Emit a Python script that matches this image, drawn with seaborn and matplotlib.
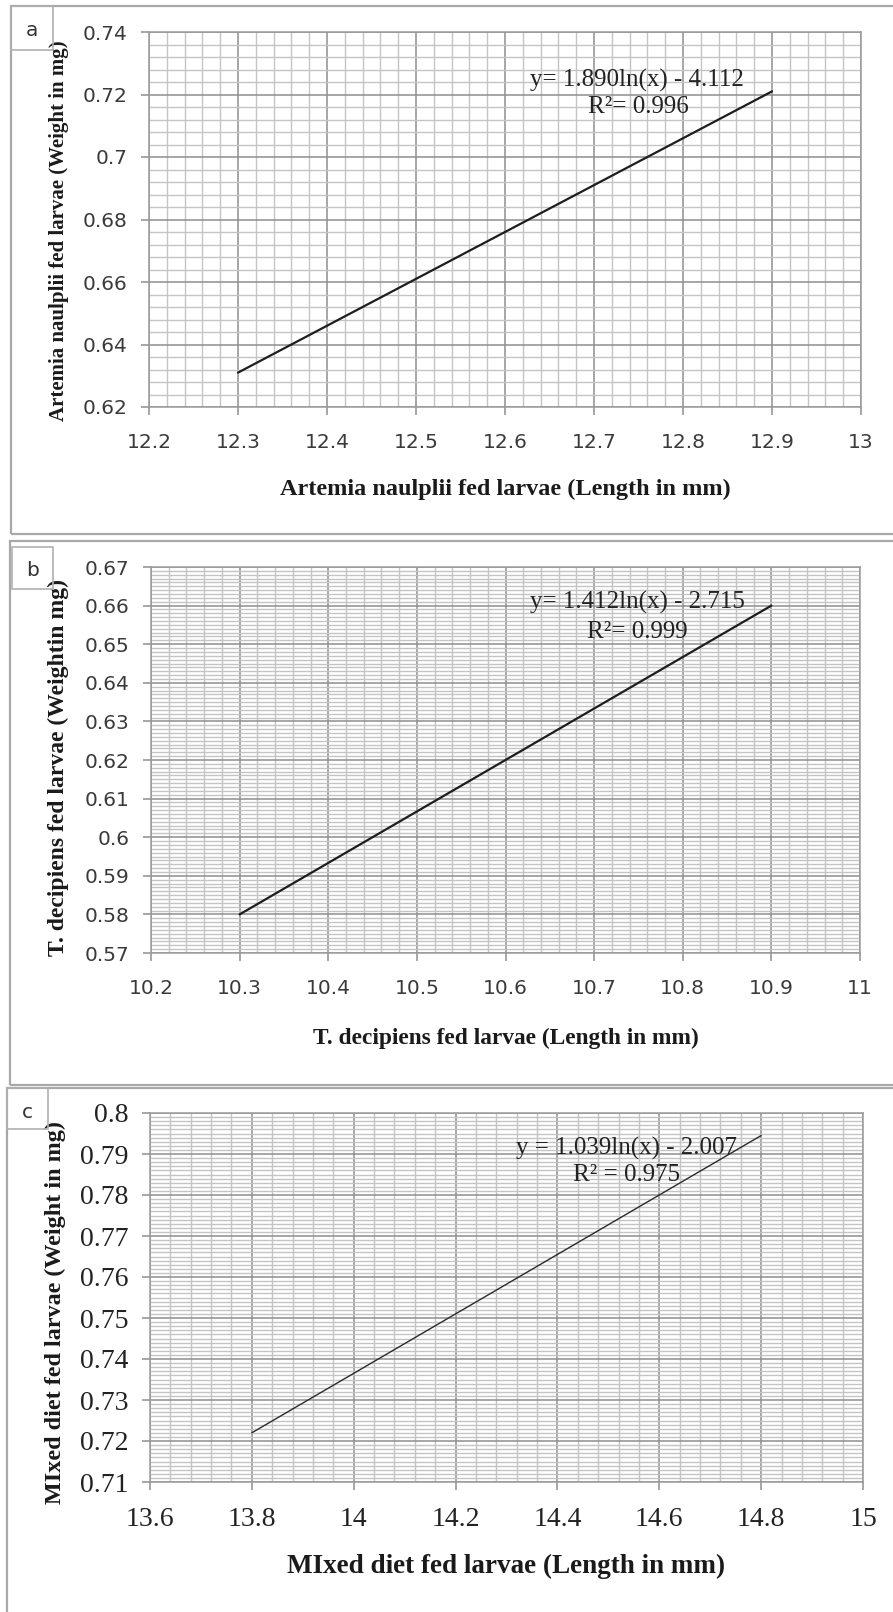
import matplotlib
matplotlib.use("Agg")
import matplotlib.pyplot as plt
from matplotlib.patches import Rectangle
from matplotlib.ticker import MultipleLocator, FixedLocator, FuncFormatter
import seaborn as sns

# Larval length vs weight for three feeding regimes
a_length = [12.3, 12.9]
a_weight = [0.631, 0.721]
b_length = [10.3, 10.9]
b_weight = [0.580, 0.660]
c_length = [13.8, 14.8]
c_weight = [0.722, 0.7945]

a_xticks = [12.2, 12.3, 12.4, 12.5, 12.6, 12.7, 12.8, 12.9, 13.0]
a_yticks = [0.62, 0.64, 0.66, 0.68, 0.70, 0.72, 0.74]
b_xticks = [10.2, 10.3, 10.4, 10.5, 10.6, 10.7, 10.8, 10.9, 11.0]
b_yticks = [0.57, 0.58, 0.59, 0.60, 0.61, 0.62, 0.63, 0.64, 0.65, 0.66, 0.67]
c_xticks = [13.6, 13.8, 14.0, 14.2, 14.4, 14.6, 14.8, 15.0]
c_yticks = [0.71, 0.72, 0.73, 0.74, 0.75, 0.76, 0.77, 0.78, 0.79, 0.80]

a_eq = ["y= 1.890ln(x) - 4.112", "R²= 0.996"]
b_eq = ["y= 1.412ln(x) - 2.715", "R²= 0.999"]
c_eq = ["y = 1.039ln(x) - 2.007", "R² = 0.975"]

a_xlabel = "Artemia naulplii fed larvae (Length in mm)"
a_ylabel = "Artemia naulplii fed larvae (Weight in mg)"
b_xlabel = "T. decipiens fed larvae (Length in mm)"
b_ylabel = "T. decipiens fed larvae (Weightin mg)"
c_xlabel = "MIxed diet fed larvae (Length in mm)"
c_ylabel = "MIxed diet fed larvae (Weight in mg)"

sns.set_theme(style="white")
plt.rcParams["font.family"] = ["DejaVu Sans"]

W, H = 893, 1612
fig = plt.figure(figsize=(W / 100, H / 100), dpi=100)
fig.patch.set_facecolor("white")


def fx(x):
    return x / W


def fy(y):
    return 1 - y / H


def add_axes_px(x0, y0, x1, y1):
    return fig.add_axes([fx(x0), fy(y1), (x1 - x0) / W, (y1 - y0) / H])


def frame_px(x0, y0, x1, y1, lw=1.6, color="#a8a8a8"):
    fig.patches.append(Rectangle((fx(x0), fy(y1)), (x1 - x0) / W, (y1 - y0) / H,
                                 transform=fig.transFigure, fill=False,
                                 edgecolor=color, linewidth=lw, clip_on=False))


def letter_box(x0, y0, x1, y1, letter, ty):
    frame_px(x0, y0, x1, y1, lw=1.2, color="#b0b0b0")
    fig.text(fx((x0 + x1) / 2), fy(ty), letter, ha="center", va="center",
             fontsize=14.5, color="#333333", family="DejaVu Sans")


def style_axes(ax, xticks, yticks, xminor, yminor, tickfont, tsize, tcolor,
               xpad, ypad):
    ax.set_xlim(xticks[0], xticks[-1])
    ax.set_ylim(yticks[0], yticks[-1])
    ax.xaxis.set_major_locator(FixedLocator(xticks))
    ax.yaxis.set_major_locator(FixedLocator(yticks))
    ax.xaxis.set_minor_locator(MultipleLocator(xminor))
    ax.yaxis.set_minor_locator(MultipleLocator(yminor))
    fmt = FuncFormatter(lambda v, p: f"{round(v, 4):g}")
    ax.xaxis.set_major_formatter(fmt)
    ax.yaxis.set_major_formatter(fmt)
    ax.grid(which="minor", color="#c4c4c4", linewidth=1.0)
    ax.grid(which="major", color="#8e8e8e", linewidth=1.1)
    ax.set_axisbelow(True)
    for s in ax.spines.values():
        s.set_color("#9a9a9a")
        s.set_linewidth(1.1)
    ax.tick_params(which="major", axis="y", direction="out", length=5.5,
                   width=1.1, color="#8e8e8e", left=True, pad=ypad)
    ax.tick_params(which="major", axis="x", direction="out", length=6,
                   width=1.1, color="#8e8e8e", bottom=True, pad=xpad)
    ax.tick_params(which="minor", length=0)
    for lab in ax.get_xticklabels() + ax.get_yticklabels():
        lab.set_fontfamily(tickfont)
        lab.set_fontsize(tsize)
        lab.set_color(tcolor)
    ax.set_facecolor("white")


def place_ylabel(ax, x_px, frac):
    # put the y-axis title centre at a given figure pixel column and axes fraction
    bbox = ax.get_position()
    x_axes = (fx(x_px) - bbox.x0) / bbox.width
    ax.yaxis.set_label_coords(x_axes, frac)


# ---------- panel frames ----------
frame_px(11, 6, 905, 534)
frame_px(10, 541, 905, 1085)
frame_px(7, 1088, 905, 1660)

serif = "Liberation Serif"

# ---------- panel a ----------
ax_a = add_axes_px(149, 32, 861, 407)
sns.lineplot(x=a_length, y=a_weight, ax=ax_a, color="#1e1e1e", linewidth=1.6)
style_axes(ax_a, a_xticks, a_yticks, 0.02, 0.004, "DejaVu Sans", 14.5, "#3a3a3a",
           xpad=13, ypad=10)
ax_a.set_xlabel(a_xlabel, fontfamily=serif, fontweight="bold", fontsize=17.5,
                color="#1a1a1a", labelpad=19)
ax_a.set_ylabel(a_ylabel, fontfamily=serif, fontweight="bold", fontsize=15,
                color="#1a1a1a", va="center")
place_ylabel(ax_a, 59, 0.47)
fig.text(fx(637), fy(80), a_eq[0], ha="center", va="center", family=serif,
         fontsize=18, color="#222222")
fig.text(fx(638), fy(107), a_eq[1], ha="center", va="center", family=serif,
         fontsize=18, color="#222222")
letter_box(11, 6, 53, 50, "a", 31)

# ---------- panel b ----------
ax_b = add_axes_px(151, 567, 860, 953)
sns.lineplot(x=b_length, y=b_weight, ax=ax_b, color="#1e1e1e", linewidth=1.6)
style_axes(ax_b, b_xticks, b_yticks, 0.02, 0.001, "DejaVu Sans", 14.5, "#3a3a3a",
           xpad=13, ypad=10)
ax_b.set_xlabel(b_xlabel, fontfamily=serif, fontweight="bold", fontsize=16.8,
                color="#1a1a1a", labelpad=21)
ax_b.set_ylabel(b_ylabel, fontfamily=serif, fontweight="bold", fontsize=17,
                color="#1a1a1a", va="center")
place_ylabel(ax_b, 58, 0.48)
fig.text(fx(637), fy(602), b_eq[0], ha="center", va="center", family=serif,
         fontsize=18, color="#222222")
fig.text(fx(637), fy(632), b_eq[1], ha="center", va="center", family=serif,
         fontsize=18, color="#222222")
letter_box(12, 547, 53, 589, "b", 570)

# ---------- panel c ----------
ax_c = add_axes_px(150, 1113, 863, 1482)
sns.lineplot(x=c_length, y=c_weight, ax=ax_c, color="#2a2a2a", linewidth=1.0)
style_axes(ax_c, c_xticks, c_yticks, 0.04, 0.001, serif, 20, "#222222",
           xpad=12, ypad=10)
ax_c.set_xlabel(c_xlabel, fontfamily=serif, fontweight="bold", fontsize=19.5,
                color="#1a1a1a", labelpad=16)
ax_c.set_ylabel(c_ylabel, fontfamily=serif, fontweight="bold", fontsize=17.4,
                color="#1a1a1a", va="center")
place_ylabel(ax_c, 55, 0.46)
fig.text(fx(627), fy(1148), c_eq[0], ha="center", va="center", family=serif,
         fontsize=18, color="#222222")
fig.text(fx(627), fy(1175), c_eq[1], ha="center", va="center", family=serif,
         fontsize=18, color="#222222")
letter_box(7, 1088, 48, 1129, "c", 1112)

fig.savefig("out.png", dpi=100, facecolor="white")
